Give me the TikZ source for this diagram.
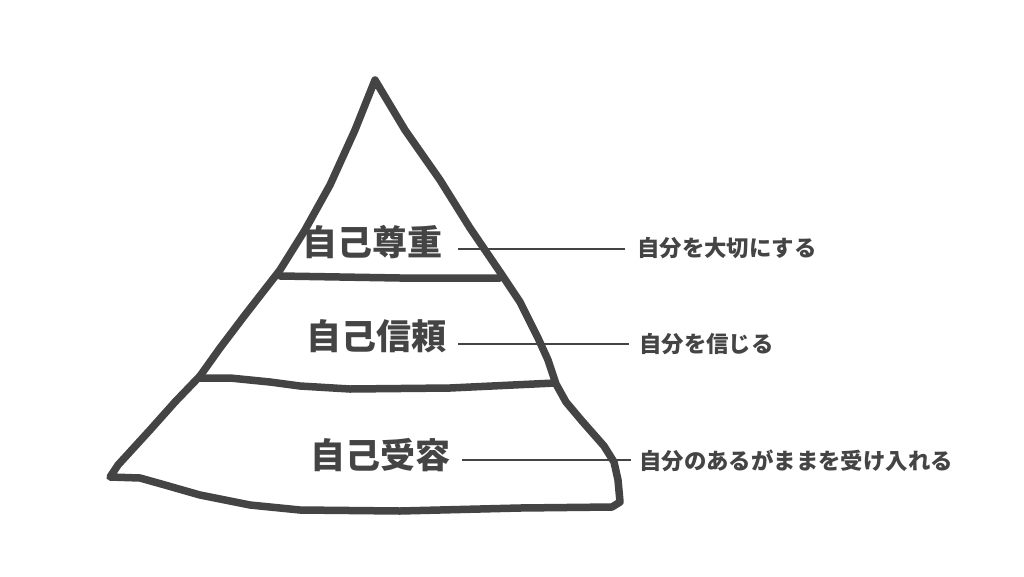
\documentclass[tikz,border=0pt]{standalone}
\usepackage{fontspec}
\newfontfamily\cjk{Noto Sans CJK JP}
\definecolor{ink}{HTML}{444444}
\begin{document}
\begin{tikzpicture}[x=1pt,y=-1pt,
  outline/.style={draw=ink,line width=7.5pt,line join=round,line cap=round},
  leader/.style={draw=ink,line width=1.6pt},
  big/.style={text=ink,font=\cjk\bfseries\fontsize{35}{35}\selectfont,inner sep=0pt},
  small/.style={text=ink,font=\cjk\bfseries\fontsize{22.4}{22.4}\selectfont,inner sep=0pt,anchor=west}]
\useasboundingbox[fill=white] (0,0) rectangle (1024,576);
% pyramid outline
\draw[outline] (375,80) -- (405,130) -- (440,180) -- (470,228) -- (500,272)
  -- (520,302) -- (538,338) -- (548,360) -- (556,384) -- (566,402) -- (582,421)
  -- (604,446) -- (614,462) -- (618,480) -- (620,502) -- (612,507)
  -- (520,508) -- (400,511) -- (300,510) -- (250,505) -- (200,495) -- (165,485)
  -- (140,478) -- (110,477) -- (118,465) -- (150,430) -- (175,402) -- (200,376)
  -- (220,348) -- (245,315) -- (280,270) -- (305,230) -- (330,185) -- (355,130) -- cycle;
% layer lines
\draw[outline] (280,276) -- (400,278) -- (500,278);
\draw[outline] (200,378) -- (230,378) -- (270,382) -- (300,386) -- (350,389)
  -- (450,388) -- (555,383);
% labels
\node[big] (t1) at (372,242) {自己尊重};
\node[big] (t2) at (376,336) {自己信頼};
\node[big] (t3) at (380,455) {自己受容};
\node[small] (d1) at (637,248) {自分を大切にする};
\node[small] (d2) at (639,344) {自分を信じる};
\node[small] (d3) at (639,461) {自分のあるがままを受け入れる};
\coordinate (a1) at ([xshift=16pt]t1.east |- 0,249);
\coordinate (b1) at ([xshift=-12pt]d1.west |- 0,249);
\coordinate (a2) at ([xshift=12pt]t2.east |- 0,344);
\coordinate (b2) at ([xshift=-10pt]d2.west |- 0,344);
\coordinate (a3) at ([xshift=12pt]t3.east |- 0,460);
\coordinate (b3) at ([xshift=-8pt]d3.west |- 0,460);
\draw[leader] (a1) -- (b1);
\draw[leader] (a2) -- (b2);
\draw[leader] (a3) -- (b3);
\end{tikzpicture}
\end{document}
